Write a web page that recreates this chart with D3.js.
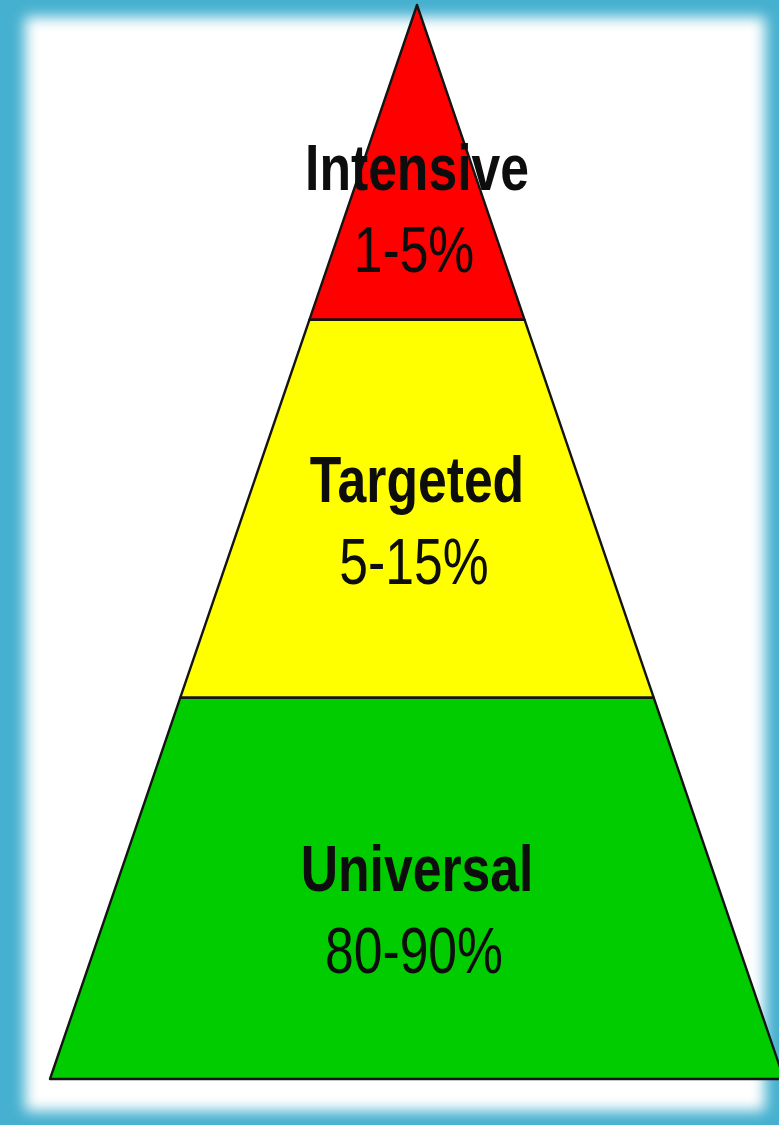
<!DOCTYPE html>
<html>
<head>
<meta charset="utf-8">
<script src="https://cdn.jsdelivr.net/npm/d3@7"></script>
<style>
  html, body { margin: 0; padding: 0; background: #45b0cf; }
  svg { display: block; }
</style>
</head>
<body>
<svg id="chart"></svg>
<script>
// tiers, top to bottom
const tierNames = ["Intensive", "Targeted", "Universal"];
const tierRanges = ["1-5%", "5-15%", "80-90%"];
// where each tier starts/ends, as share of the pyramid height
const tierBreaks = [0, 0.293, 0.645, 1];

const W = 779, H = 1125;
const svg = d3.select("#chart").attr("width", W).attr("height", H);

const defs = svg.append("defs");
defs.append("filter").attr("id", "soft")
  .attr("x", "-10%").attr("y", "-10%").attr("width", "120%").attr("height", "120%")
  .append("feGaussianBlur").attr("stdDeviation", 7);

// blue frame with a soft white panel inside
svg.append("rect").attr("width", W).attr("height", H).attr("fill", "#45b0cf");
svg.append("rect")
  .attr("x", 25).attr("y", 17)
  .attr("width", 740).attr("height", 1094)
  .attr("fill", "#fff")
  .attr("filter", "url(#soft)");

const apex = { x: 417, y: 5 };
const baseY = 1079, halfBase = 367;

const y = d3.scaleLinear().domain([0, 1]).range([apex.y, baseY]);
const hw = d3.scaleLinear().domain([0, 1]).range([0, halfBase]);
const color = d3.scaleOrdinal().domain(tierNames).range(["#ff0000", "#ffff00", "#00cc00"]);

const tiers = tierNames.map((name, i) => ({
  name, range: tierRanges[i], t0: tierBreaks[i], t1: tierBreaks[i + 1]
}));

const g = svg.append("g");

g.selectAll("path.tier")
  .data(tiers)
  .join("path")
  .attr("class", "tier")
  .attr("fill", d => color(d.name))
  .attr("stroke", "#141414")
  .attr("stroke-width", 2.4)
  .attr("stroke-linejoin", "round")
  .attr("d", d => d3.line()([
    [apex.x - hw(d.t0), y(d.t0)],
    [apex.x + hw(d.t0), y(d.t0)],
    [apex.x + hw(d.t1), y(d.t1)],
    [apex.x - hw(d.t1), y(d.t1)]
  ]) + "Z");

// text block centred on the trapezoid centroid
function centroidY(d) {
  const a = hw(d.t0), b = hw(d.t1), top = y(d.t0), h = y(d.t1) - y(d.t0);
  return top + h * (a + 2 * b) / (3 * (a + b));
}
const labelOffset = [-8, -13, 6];

const labels = g.selectAll("g.label")
  .data(tiers)
  .join("g")
  .attr("class", "label")
  .attr("transform", (d, i) => `translate(${apex.x},${centroidY(d) + labelOffset[i]})`);

labels.append("text")
  .attr("transform", "translate(0,-17) scale(0.795,1)")
  .attr("text-anchor", "middle")
  .style("font-family", "'Liberation Sans', Arial, sans-serif")
  .style("font-weight", "bold")
  .style("font-size", "65px")
  .attr("fill", "#0d0d0d")
  .text(d => d.name);

labels.append("text")
  .attr("transform", "translate(-3,65) scale(0.795,1)")
  .attr("text-anchor", "middle")
  .style("font-family", "'Liberation Sans', Arial, sans-serif")
  .style("font-size", "65px")
  .attr("fill", "#0d0d0d")
  .text(d => d.range);
</script>
</body>
</html>
